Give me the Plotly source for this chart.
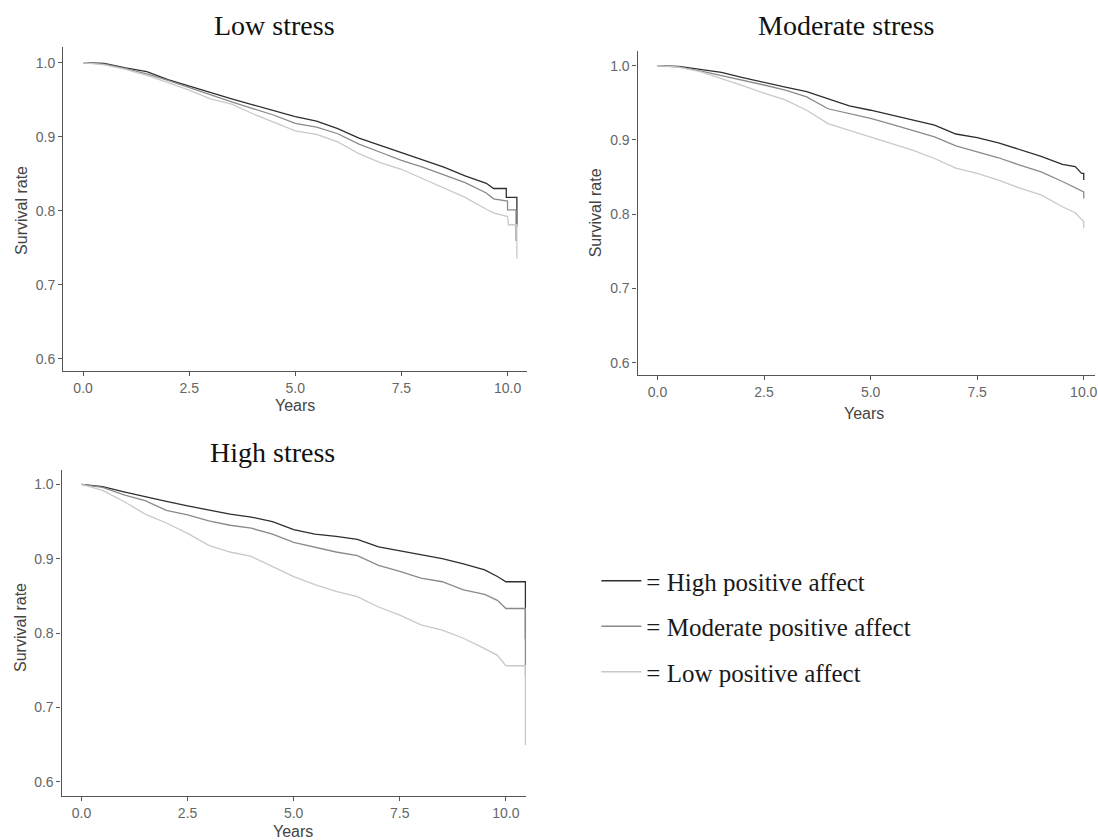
import plotly.graph_objects as go

# ---------------- data ----------------
series_names = ["= High positive affect", "= Moderate positive affect", "= Low positive affect"]
series_colors = ["#2e2e2e", "#8a8a8a", "#c9c9c9"]

grid = [0, 0.5, 1, 1.5, 2, 2.5, 3, 3.5, 4, 4.5, 5, 5.5, 6, 6.5, 7, 7.5, 8, 8.5, 9, 9.5]

# Low stress panel
low_t_high = grid + [9.67, 9.97, 9.97, 10.22, 10.22]
low_s_high = [1.0, 0.999, 0.993, 0.988, 0.977, 0.968, 0.959, 0.951, 0.943, 0.935,
              0.927, 0.921, 0.911, 0.898, 0.888, 0.878, 0.868, 0.859, 0.847, 0.837,
              0.830, 0.830, 0.818, 0.818, 0.779]
low_t_mod = grid + [9.67, 10.0, 10.0, 10.2, 10.2]
low_s_mod = [1.0, 0.998, 0.992, 0.985, 0.976, 0.966, 0.956, 0.947, 0.938, 0.929,
             0.918, 0.913, 0.904, 0.890, 0.879, 0.868, 0.859, 0.849, 0.838, 0.824,
             0.816, 0.813, 0.801, 0.801, 0.759]
low_t_low = grid + [9.67, 10.0, 10.02, 10.22, 10.22]
low_s_low = [1.0, 0.997, 0.991, 0.983, 0.973, 0.963, 0.951, 0.944, 0.931, 0.920,
             0.908, 0.903, 0.893, 0.877, 0.865, 0.856, 0.843, 0.831, 0.818, 0.802,
             0.797, 0.792, 0.781, 0.781, 0.735]

# Moderate stress panel
mod_t_high = grid + [9.8, 9.95, 10.0, 10.0]
mod_s_high = [1.0, 0.999, 0.995, 0.991, 0.984, 0.977, 0.971, 0.965, 0.955, 0.946,
              0.940, 0.933, 0.927, 0.920, 0.908, 0.903, 0.896, 0.887, 0.878, 0.867,
              0.864, 0.855, 0.855, 0.846]
mod_t_mod = grid + [9.8, 10.0, 10.0]
mod_s_mod = [1.0, 0.998, 0.993, 0.987, 0.981, 0.974, 0.967, 0.958, 0.942, 0.936,
             0.929, 0.921, 0.913, 0.904, 0.892, 0.884, 0.876, 0.866, 0.857, 0.844,
             0.836, 0.830, 0.821]
mod_t_low = grid + [9.8, 10.0, 10.0]
mod_s_low = [1.0, 0.998, 0.992, 0.983, 0.973, 0.963, 0.954, 0.940, 0.922, 0.913,
             0.904, 0.895, 0.886, 0.875, 0.862, 0.855, 0.846, 0.835, 0.826, 0.810,
             0.802, 0.790, 0.781]

# High stress panel
high_t_high = grid + [9.8, 10.0, 10.46, 10.46]
high_s_high = [1.0, 0.997, 0.990, 0.983, 0.977, 0.971, 0.965, 0.960, 0.956, 0.950,
               0.939, 0.933, 0.930, 0.926, 0.916, 0.911, 0.905, 0.900, 0.893, 0.885,
               0.876, 0.869, 0.869, 0.792]
high_t_mod = grid + [9.8, 10.0, 10.46, 10.46]
high_s_mod = [1.0, 0.996, 0.986, 0.978, 0.965, 0.959, 0.951, 0.945, 0.941, 0.933,
              0.922, 0.915, 0.909, 0.904, 0.891, 0.883, 0.874, 0.869, 0.858, 0.852,
              0.844, 0.833, 0.833, 0.742]
high_t_low = grid + [9.8, 10.0, 10.46, 10.46]
high_s_low = [1.0, 0.992, 0.977, 0.960, 0.948, 0.934, 0.918, 0.909, 0.903, 0.889,
              0.876, 0.865, 0.856, 0.849, 0.835, 0.824, 0.811, 0.804, 0.793, 0.779,
              0.770, 0.756, 0.756, 0.649]

panel_titles = ["Low stress", "Moderate stress", "High stress"]
x_tickvals = [0, 2.5, 5, 7.5, 10]
y_tickvals = [0.6, 0.7, 0.8, 0.9, 1.0]

panels = [
    [(low_t_high, low_s_high), (low_t_mod, low_s_mod), (low_t_low, low_s_low)],
    [(mod_t_high, mod_s_high), (mod_t_mod, mod_s_mod), (mod_t_low, mod_s_low)],
    [(high_t_high, high_s_high), (high_t_mod, high_s_mod), (high_t_low, high_s_low)],
]

# ---------------- layout geometry ----------------
W, H = 1098, 840
px_x = lambda v: v / W
px_y = lambda v: 1 - v / H

axes_geo = [
    dict(xd=(63.3, 528.3), yd=(47.3, 370.7), xr=(-0.47, 10.455), yr=(0.5838, 1.0208)),
    dict(xd=(639.3, 1098), yd=(50.7, 375.0), xr=(-0.468, 10.264), yr=(0.5834, 1.0202)),
    dict(xd=(61.7, 527.7), yd=(470.0, 795.7), xr=(-0.47, 10.48), yr=(0.5812, 1.0193)),
]

fig = go.Figure()

for p, series in enumerate(panels):
    suffix = "" if p == 0 else str(p + 1)
    for k, (t, s) in enumerate(series):
        fig.add_trace(go.Scatter(
            x=t, y=s, mode="lines",
            line=dict(color=series_colors[k], width=1.3),
            name=series_names[k],
            legendgroup=series_names[k],
            showlegend=(p == 2),
            xaxis="x" + suffix, yaxis="y" + suffix,
            hoverinfo="skip",
        ))

axis_common = dict(
    showline=True, linecolor="#555555", linewidth=1.2,
    ticks="outside", ticklen=4, tickwidth=1, tickcolor="#555555",
    showgrid=False, zeroline=False, ticklabeloverflow="allow",
    tickfont=dict(family="Liberation Sans", size=14, color="#666666"),
)

layout = dict(
    width=W, height=H, autosize=False,
    margin=dict(l=0, r=0, t=0, b=0),
    paper_bgcolor="white", plot_bgcolor="white",
    legend=dict(
        x=px_x(598), y=px_y(558), xanchor="left", yanchor="top",
        font=dict(family="Liberation Serif", size=25, color="#1a1a1a"),
        itemwidth=40, tracegroupgap=10, bgcolor="rgba(0,0,0,0)",
    ),
)

annotations = []
for p, g in enumerate(axes_geo):
    suffix = "" if p == 0 else str(p + 1)
    layout["xaxis" + suffix] = dict(
        axis_common,
        domain=[px_x(g["xd"][0]), px_x(g["xd"][1])],
        range=list(g["xr"]), anchor="y" + suffix,
        tickvals=x_tickvals, ticktext=["%.1f" % v for v in x_tickvals],
    )
    layout["yaxis" + suffix] = dict(
        axis_common,
        domain=[px_y(g["yd"][1]), px_y(g["yd"][0])],
        range=list(g["yr"]), anchor="x" + suffix,
        tickvals=y_tickvals, ticktext=["%.1f" % v for v in y_tickvals],
    )

title_pos = [(275, 25), (849, 25), (273, 452)]
ylab_pos = [(21, 210), (597, 213), (20, 627)]
xlab_pos = [(296, 405), (866, 413), (294, 831)]
for p in range(3):
    annotations.append(dict(
        text=panel_titles[p], x=px_x(title_pos[p][0]), y=px_y(title_pos[p][1]),
        xref="paper", yref="paper", showarrow=False, xanchor="center", yanchor="middle",
        font=dict(family="Liberation Serif", size=28, color="#111111"),
    ))
    annotations.append(dict(
        text="Survival rate", x=px_x(ylab_pos[p][0]), y=px_y(ylab_pos[p][1]),
        xref="paper", yref="paper", showarrow=False, textangle=-90,
        xanchor="center", yanchor="middle",
        font=dict(family="Liberation Sans", size=16, color="#444444"),
    ))
    annotations.append(dict(
        text="Years", x=px_x(xlab_pos[p][0]), y=px_y(xlab_pos[p][1]),
        xref="paper", yref="paper", showarrow=False,
        xanchor="center", yanchor="middle",
        font=dict(family="Liberation Sans", size=16, color="#444444"),
    ))
layout["annotations"] = annotations

fig.update_layout(**layout)
fig.write_html(
    "out.html",
    config={"displayModeBar": False},
    post_script="document.body.style.margin='0';document.body.style.overflow='hidden';",
)
